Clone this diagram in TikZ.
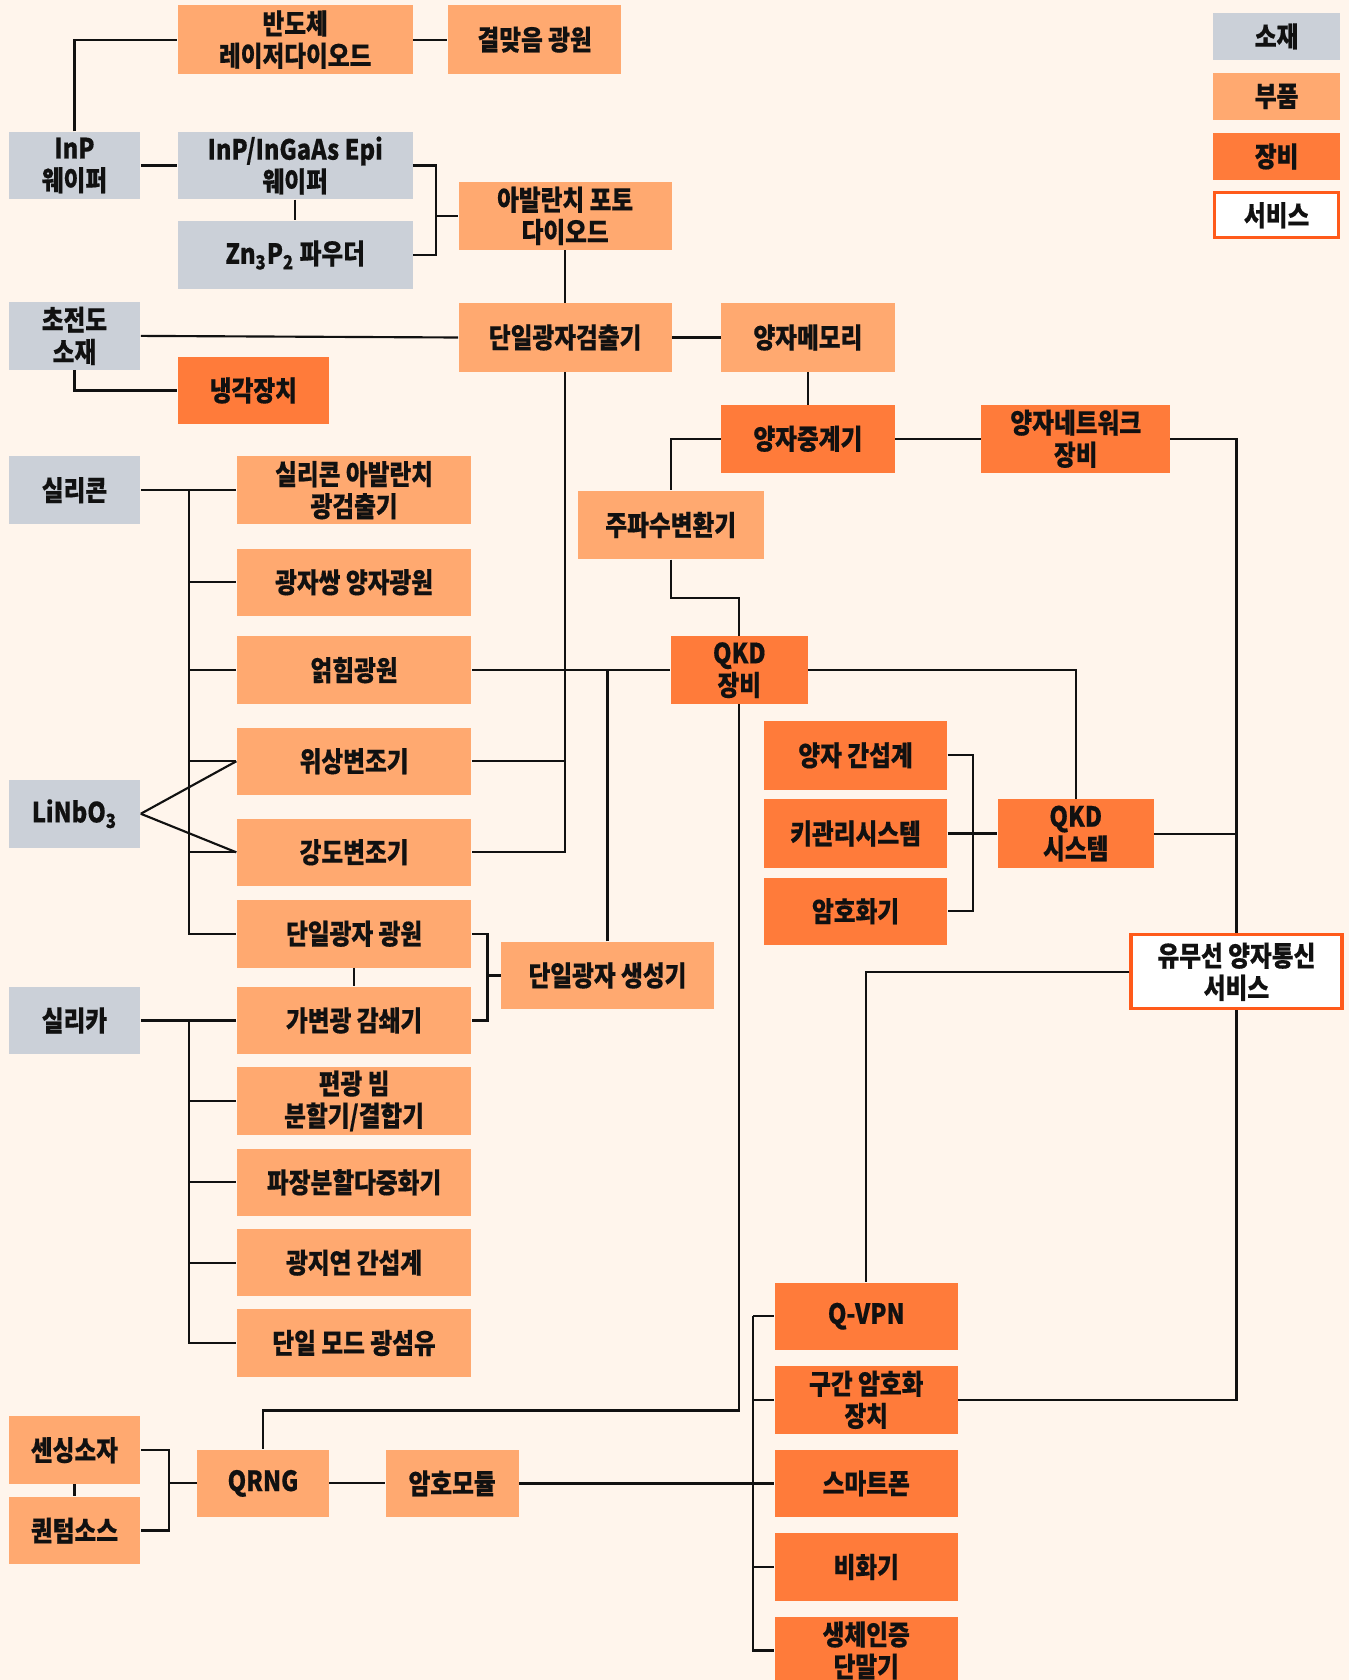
\documentclass[tikz,border=0pt]{standalone}
\usepackage{fontspec}
\setmainfont{Noto Sans CJK KR}[FakeStretch=0.85, BoldFeatures={FakeBold=0.4}]
\definecolor{bgc}{HTML}{FFF5EC}
\definecolor{cmat}{HTML}{CBD0D8}
\definecolor{cpart}{HTML}{FFA970}
\definecolor{cequip}{HTML}{FF7B3A}
\definecolor{csvc}{HTML}{FF5A1A}
\definecolor{cline}{HTML}{111111}
\definecolor{ctxt}{HTML}{111111}
\tikzset{
 bx/.style={rectangle, inner sep=0pt, align=center, font=\bfseries\fontsize{13}{15}\selectfont, text=ctxt},
 mat/.style={bx, fill=cmat},
 part/.style={bx, fill=cpart},
 equip/.style={bx, fill=cequip},
 svcs/.style={bx, fill=white, draw=csvc, line width=1.5pt},
 sz/.style 2 args={minimum width=#1*0.5pt, minimum height=#2*0.5pt},
 ln/.style={draw=cline, line width=1pt},
 lnb/.style={draw=cline, line width=1.5pt},
}
\begin{document}
\begin{tikzpicture}[x=0.5pt,y=-0.5pt]
\fill[bgc] (0,0) rectangle (1259,1568);
\useasboundingbox (0,0) rectangle (1259,1568);

% legend
\node[mat, sz={119}{44}] (lg1) at (1191.5,34) {소재};
\node[part, sz={119}{44}] (lg2) at (1191.5,90) {부품};
\node[equip, sz={119}{44}] (lg3) at (1191.5,146) {장비};
\node[svcs, sz={116}{42}] (lg4) at (1191.5,201) {서비스};

% top
\node[part, sz={219}{64}] (bandoche) at (275.5,37) {반도체\\레이저다이오드};
\node[part, sz={162}{64}] (gyeol) at (499,37) {결맞음 광원};
\node[mat, sz={123}{63}] (inp) at (69.5,154.5) {InP\\웨이퍼};
\node[mat, sz={219}{63}] (epi) at (275.5,154.5) {InP/InGaAs Epi\\웨이퍼};
\node[mat, sz={219}{64}] (zn) at (275.5,238) {Zn\textsubscript{3}P\textsubscript{2} 파우더};
\node[part, sz={199}{63}] (aval) at (527.5,201.5) {아발란치 포토\\다이오드};
\node[mat, sz={123}{63}] (cho) at (69.5,313.5) {초전도\\소재};
\node[part, sz={199}{64}] (spd) at (527.5,315) {단일광자검출기};
\node[part, sz={162}{64}] (mem) at (754,315) {양자메모리};
\node[equip, sz={141}{63}] (cool) at (236.5,364.5) {냉각장치};
\node[equip, sz={162}{63}] (rep) at (754,409.5) {양자중계기};
\node[equip, sz={176}{63}] (net) at (1004,409.5) {양자네트워크\\장비};
\node[part, sz={174}{64}] (freq) at (626,490) {주파수변환기};

% silicon group
\node[mat, sz={123}{63}] (si) at (69.5,457.5) {실리콘};
\node[part, sz={219}{63}] (siapd) at (330.5,457.5) {실리콘 아발란치\\광검출기};
\node[part, sz={219}{63}] (pair) at (330.5,543.5) {광자쌍 양자광원};
\node[part, sz={219}{63}] (ent) at (330.5,625.5) {얽힘광원};
\node[part, sz={219}{63}] (phase) at (330.5,710.5) {위상변조기};
\node[part, sz={219}{63}] (inten) at (330.5,795.5) {강도변조기};
\node[mat, sz={123}{63}] (linbo) at (69.5,759.5) {LiNbO\textsubscript{3}};
\node[part, sz={219}{63}] (sps) at (330.5,871.5) {단일광자 광원};
\node[part, sz={198}{63}] (spg) at (567,910.5) {단일광자 생성기};

% silica group
\node[mat, sz={123}{63}] (silica) at (69.5,952.5) {실리카};
\node[part, sz={219}{63}] (voa) at (330.5,952.5) {가변광 감쇄기};
\node[part, sz={219}{63}] (pbs) at (330.5,1027.5) {편광 빔\\분할기/결합기};
\node[part, sz={219}{63}] (wdm) at (330.5,1103.5) {파장분할다중화기};
\node[part, sz={219}{63}] (dli) at (330.5,1178.5) {광지연 간섭계};
\node[part, sz={219}{63}] (smf) at (330.5,1253.5) {단일 모드 광섬유};

% QKD
\node[equip, sz={128}{63}] (qkde) at (690,625.5) {QKD\\장비};
\node[equip, sz={171}{64}] (qint) at (798.5,705) {양자 간섭계};
\node[equip, sz={171}{64}] (kms) at (798.5,778) {키관리시스템};
\node[equip, sz={171}{63}] (enc) at (798.5,850.5) {암호화기};
\node[equip, sz={146}{64}] (qkds) at (1004,778) {QKD\\시스템};
\node[svcs, sz={197}{69}] (svc) at (1154,907) {유무선 양자통신\\서비스};

% bottom right
\node[equip, sz={171}{63}] (qvpn) at (808.5,1228.5) {Q-VPN};
\node[equip, sz={171}{63}] (sec) at (808.5,1306.5) {구간 암호화\\장치};
\node[equip, sz={171}{63}] (phone) at (808.5,1384.5) {스마트폰};
\node[equip, sz={171}{63}] (scr) at (808.5,1462.5) {비화기};
\node[equip, sz={171}{63}] (bio) at (808.5,1540.5) {생체인증\\단말기};

% bottom left
\node[part, sz={123}{63}] (sens) at (69.5,1353.5) {센싱소자};
\node[part, sz={123}{63}] (qsrc) at (69.5,1428.5) {퀀텀소스};
\node[part, sz={123}{63}] (qrng) at (245.5,1384.5) {QRNG};
\node[part, sz={124}{63}] (cmod) at (422,1384.5) {암호모듈};

% coordinates
\coordinate (b1) at (407,201.5);
\coordinate (bus1) at (176,457.5);
\coordinate (b2) at (455,910.5);
\coordinate (bus2) at (176,952.5);
\coordinate (b3) at (908,778);
\coordinate (bus3) at (703,1228.5);
\coordinate (b4) at (158,1384.5);

% connectors top
\draw[ln] (inp.north) |- (bandoche.west);
\draw[ln] (bandoche) -- (gyeol);
\draw[ln] (inp) -- (epi);
\draw[ln] (epi) -- (zn);
\draw[ln] (epi.east) -| (b1) |- (zn.east);
\draw[ln] (b1) -- (aval.west);
\draw[ln] (aval) -- (spd);
\draw[ln] (cho.east) -- (spd.west);
\draw[ln] (cho.south) |- (cool.west);
\draw[ln] (spd) -- (mem);
\draw[ln] (mem) -- (rep);
\draw[ln] (rep) -- (net);
\draw[ln] (net.east) -| (svc.north);
\draw[ln] (rep.west) -| (freq.north);
\draw[ln] (freq.south) -- ++(0,36) -| (qkde.north);

% single photon detector trunk
\draw[ln] (spd.south) |- (inten.east);
\draw[ln] (phase.east) -- (phase.east -| spd.south);
\draw[ln] (ent.east) -- (qkde.west);
\draw[ln] (spg.north) -- (spg.north |- ent.east);

% silicon bus
\draw[ln] (si.east) -- (siapd.west);
\draw[ln] (bus1) |- (sps.west);
\draw[ln] (bus1 |- pair.west) -- (pair.west);
\draw[ln] (bus1 |- ent.west) -- (ent.west);
\draw[ln] (bus1 |- phase.west) -- (phase.west);
\draw[ln] (bus1 |- inten.west) -- (inten.west);
\draw[ln] (linbo.east) -- (phase.west);
\draw[ln] (linbo.east) -- (inten.west);

% single photon source
\draw[ln] (sps.south) -- (voa.north);
\draw[ln] (sps.east) -| (b2) |- (voa.east);
\draw[ln] (b2) -- (spg.west);

% silica bus
\draw[lnb] (silica.east) -- (voa.west);
\draw[ln] (bus2) |- (smf.west);
\draw[ln] (bus2 |- pbs.west) -- (pbs.west);
\draw[ln] (bus2 |- wdm.west) -- (wdm.west);
\draw[ln] (bus2 |- dli.west) -- (dli.west);

% QKD
\draw[ln] (qkde.east) -| (qkds.north);
\draw[ln] (qkde.south) -- ++(0,659) -| (qrng.north);
\draw[ln] (qint.east) -| (b3) |- (enc.east);
\draw[lnb] (kms.east) -- (qkds.west);
\draw[ln] (qkds.east) -- (qkds.east -| svc.north);
\draw[ln] (svc.west) -| (qvpn.north);
\draw[ln] (svc.south) |- (sec.east);

% bottom right bus
\draw[ln] (bus3) -- (qvpn.west);
\draw[ln] (bus3) |- (bio.west);
\draw[ln] (bus3 |- sec.west) -- (sec.west);
\draw[ln] (bus3 |- scr.west) -- (scr.west);
\draw[lnb] (cmod.east) -- (phone.west);

% bottom left
\draw[ln] (sens.east) -| (b4) |- (qsrc.east);
\draw[ln] (b4) -- (qrng.west);
\draw[ln] (sens) -- (qsrc);
\draw[ln] (qrng) -- (cmod);
\end{tikzpicture}
\end{document}
